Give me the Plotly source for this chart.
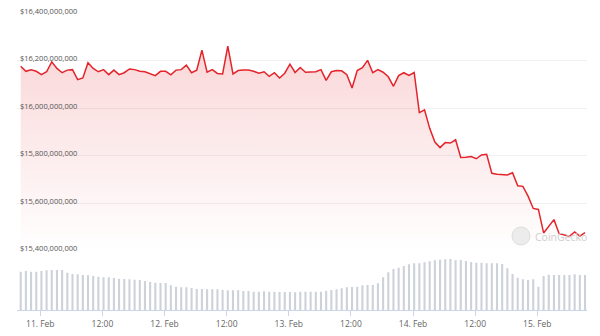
import pandas as pd
import plotly.graph_objects as go

# ---- data ----
start_time = "2024-02-10 20:13"
n_points = 110

# market cap in USD millions, hourly
market_cap_musd = [
    16177, 16156, 16162, 16156, 16142, 16154, 16196, 16168, 16150, 16161,
    16163, 16121, 16128, 16192, 16168, 16154, 16163, 16142, 16161, 16142,
    16150, 16166, 16163, 16156, 16154, 16147, 16138, 16156, 16156, 16141,
    16161, 16163, 16182, 16150, 16161, 16245, 16152, 16163, 16147, 16145,
    16262, 16145, 16159, 16161, 16161, 16156, 16148, 16154, 16135, 16150,
    16128, 16148, 16186, 16151, 16172, 16152, 16153, 16154, 16163, 16118,
    16154, 16159, 16158, 16142, 16086, 16159, 16171, 16202, 16150, 16163,
    16152, 16133, 16093, 16138, 16150, 16139, 16151, 15982, 15994, 15916,
    15858, 15835, 15856, 15854, 15868, 15793, 15794, 15797, 15788, 15804,
    15807, 15727, 15723, 15723, 15720, 15729, 15674, 15672, 15631, 15579,
    15575, 15476, 15504, 15532, 15473, 15466, 15462, 15480, 15463, 15477,
]

# volume (relative units)
volume = [
    116, 118, 116, 116, 118, 120, 121, 121, 121, 113,
    109, 108, 106, 105, 103, 101, 99, 99, 97, 95,
    94, 93, 92, 91, 88, 85, 83, 82, 82, 75,
    71, 69, 69, 67, 64, 64, 63, 63, 63, 61,
    60, 60, 60, 58, 58, 56, 56, 57, 56, 56,
    55, 55, 55, 54, 56, 56, 56, 56, 56, 59,
    61, 63, 66, 69, 70, 71, 75, 76, 76, 81,
    99, 114, 124, 128, 133, 138, 141, 141, 144, 147,
    150, 152, 153, 154, 150, 151, 148, 145, 143, 143,
    141, 141, 141, 139, 126, 109, 98, 93, 91, 93,
    71, 103, 107, 106, 106, 106, 106, 108, 106, 106,
]

price_ticks = [15400, 15600, 15800, 16000, 16200, 16400]
x_tick_times = ["2024-02-11 00:00", "2024-02-11 12:00", "2024-02-12 00:00",
                "2024-02-12 12:00", "2024-02-13 00:00", "2024-02-13 12:00",
                "2024-02-14 00:00", "2024-02-14 12:00", "2024-02-15 00:00"]
x_tick_labels = ["11. Feb", "12:00", "12. Feb", "12:00", "13. Feb",
                 "12:00", "14. Feb", "12:00", "15. Feb"]

timestamps = pd.date_range(start_time, periods=n_points, freq="h")

RED = "#e3242b"
FONT = "Open Sans"

fig = go.Figure()

fig.add_trace(go.Bar(
    x=timestamps, y=volume, xaxis="x", yaxis="y2",
    marker=dict(color="#cdd1d9", line=dict(width=0)),
    width=1.45e6, hoverinfo="skip",
))

fig.add_trace(go.Scatter(
    x=timestamps, y=market_cap_musd, xaxis="x", yaxis="y",
    mode="lines", line=dict(color=RED, width=1.5),
    fill="tozeroy",
    fillgradient=dict(
        type="vertical",
        colorscale=[[0, "rgba(227,36,43,0.0)"], [1, "rgba(227,36,43,0.17)"]],
        start=15400, stop=16200,
    ),
))

fig.update_layout(
    width=600, height=336, autosize=False,
    margin=dict(l=0, r=0, t=0, b=0, pad=0, autoexpand=False),
    paper_bgcolor="white", plot_bgcolor="rgba(0,0,0,0)",
    showlegend=False,
    font=dict(family=FONT),
    xaxis=dict(
        domain=[17 / 600, 587 / 600],
        range=["2024-02-10 19:30", "2024-02-15 09:36"],
        anchor="y2", automargin=False,
        tickmode="array", tickvals=x_tick_times, ticktext=x_tick_labels,
        ticks="outside", ticklen=5, tickcolor="#ccd6eb",
        showline=True, linecolor="#ccd6eb", linewidth=1,
        showgrid=False, zeroline=False,
        tickfont=dict(family=FONT, size=8.5, color="#666666"),
    ),
    yaxis=dict(
        domain=[1 - 251 / 336, 1 - 13.3 / 336],
        range=[15400, 16400], automargin=False,
        tickmode="array", tickvals=price_ticks,
        ticktext=[f"${v * 1_000_000:,.0f}" for v in price_ticks],
        ticklabelposition="inside top", ticklabeloverflow="allow",
        ticklabelshift=3,
        showgrid=True, gridcolor="#f0f0f0", gridwidth=1,
        zeroline=False, showline=False, ticks="",
        tickfont=dict(family=FONT, size=7.5, color="#555555"),
    ),
    yaxis2=dict(
        domain=[1 - 310.3 / 336, 1 - 251 / 336],
        range=[0, 178],
        visible=False,
    ),
    shapes=[dict(
        type="circle", xref="paper", yref="paper",
        x0=512 / 600, x1=530 / 600, y0=1 - 245 / 336, y1=1 - 227 / 336,
        fillcolor="#ececec", line=dict(color="#dddddd", width=1), layer="above",
    )],
    annotations=[dict(
        text="CoinGecko", xref="paper", yref="paper",
        x=533 / 600, y=1 - 237 / 336, xanchor="left", yanchor="middle",
        showarrow=False, font=dict(family=FONT, size=10.5, color="#cfcfcf"),
    )],
)

fig.write_html("out.html")
